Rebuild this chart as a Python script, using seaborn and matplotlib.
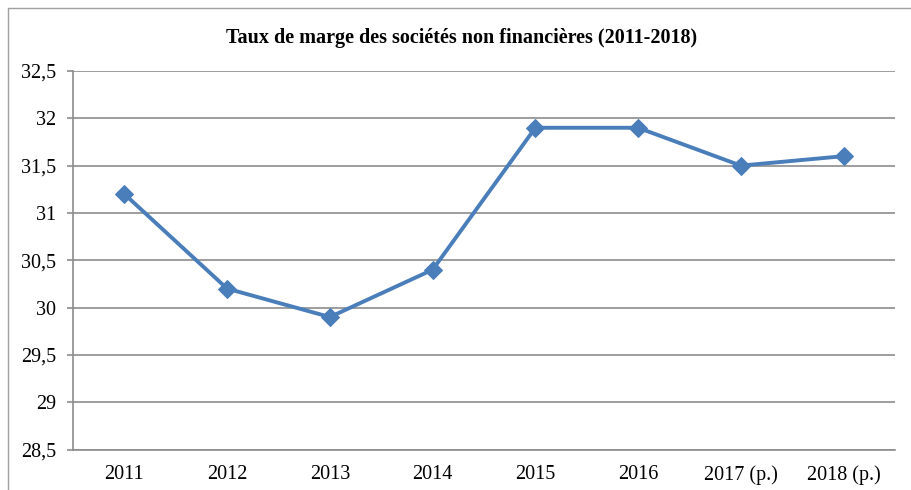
# %% Requirements and constants
import numpy as np
import pandas as pd
import seaborn as sns
import matplotlib.pyplot as plt
from matplotlib.lines import Line2D
from matplotlib.ticker import FuncFormatter, FixedLocator

years = ['2011', '2012', '2013', '2014', '2015', '2016', '2017 (p.)', '2018 (p.)']
taux = [31.2, 30.2, 29.9, 30.4, 31.9, 31.9, 31.5, 31.6]
y_ticks = [28.5, 29, 29.5, 30, 30.5, 31, 31.5, 32, 32.5]

title = 'Taux de marge des sociétés non financières (2011-2018)'

# %% Plot
sns.set_style('white')
plt.rcParams['font.family'] = ['Liberation Serif', 'DejaVu Serif']
plt.rcParams['text.color'] = 'black'

df = pd.DataFrame({'annee': years, 'taux': taux})
df['pos'] = np.arange(len(years))

fig = plt.figure(figsize=(9.11, 4.9), dpi=100)
ax = fig.add_axes([73 / 911, 1 - 449.5 / 490, (895 - 73) / 911, (449.5 - 71) / 490])

grid_c = '#8c8c8c'
ax.set_ylim(28.5, 32.5)
ax.set_xlim(-0.5, len(years) - 0.5)
ax.set_yticks(y_ticks)
ax.yaxis.set_major_formatter(FuncFormatter(lambda v, p: f'{v:g}'.replace('.', ',')))
ax.yaxis.grid(True, color=grid_c, linewidth=1.2)
ax.set_axisbelow(True)

sns.lineplot(data=df, x='pos', y='taux', ax=ax, color='#4a7ebb', linewidth=2.8,
             marker='D', markersize=9, markeredgecolor='#4a7ebb', zorder=3)

ax.set_xticks(df['pos'])
ax.set_xticklabels(years)
ax.xaxis.set_minor_locator(FixedLocator(np.arange(-0.5, len(years), 1)))
ax.tick_params(axis='x', which='major', length=0, labelsize=14.5, pad=11, labelcolor='black')
ax.tick_params(axis='x', which='minor', length=4.3, width=1.2, color=grid_c, direction='out')
ax.tick_params(axis='y', length=4.3, width=1.2, color=grid_c, direction='out',
               labelsize=14.5, pad=8, left=True, labelcolor='black')
ax.set_xlabel('')
ax.set_ylabel('')

for side in ['top', 'right']:
    ax.spines[side].set_visible(False)
for side in ['left', 'bottom']:
    ax.spines[side].set_color(grid_c)
    ax.spines[side].set_linewidth(1.2)

fig.text(462 / 911, 1 - 38 / 490, title, ha='center', va='center',
         fontsize=14.5, fontweight='bold', color='black')

# outer chart frame
fig.add_artist(Line2D([8 / 911, 1], [1 - 8 / 490] * 2, color='#a0a0a0', linewidth=1))
fig.add_artist(Line2D([8 / 911] * 2, [0, 1 - 8 / 490], color='#a0a0a0', linewidth=1))

fig.savefig('out.png', dpi=100)
